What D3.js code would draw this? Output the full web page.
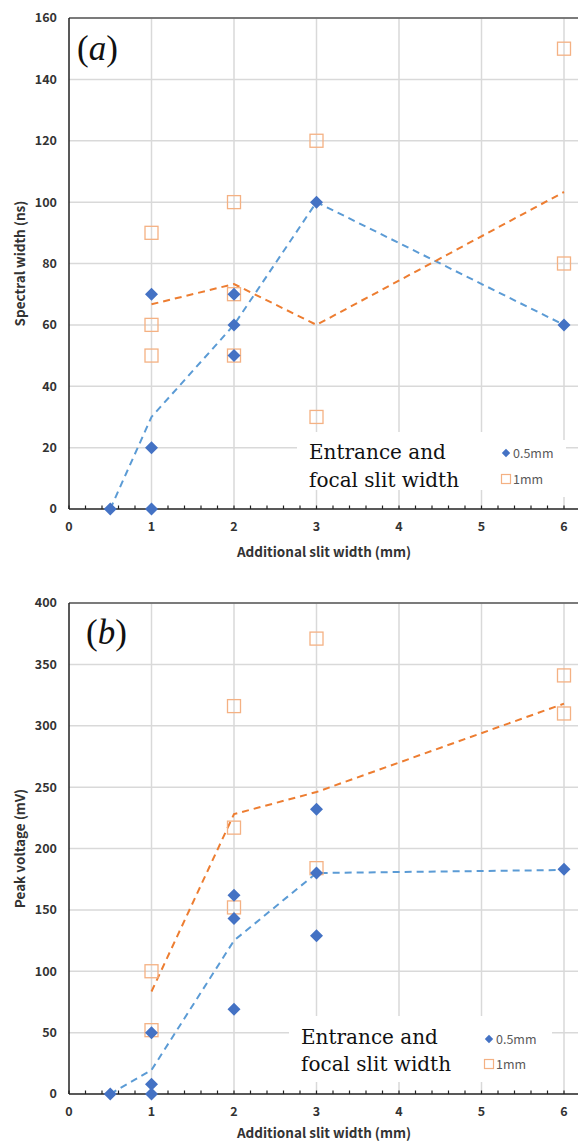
<!DOCTYPE html>
<html><head><meta charset="utf-8">
<script src="https://cdn.jsdelivr.net/npm/d3@7"></script>
<style>body{margin:0;background:#fff}svg{display:block}</style>
</head><body>
<script>
// ---------- data ----------
const xTicks = [0, 1, 2, 3, 4, 5, 6];
const xLabel = "Additional slit width (mm)";
const seriesNames = ["0.5mm", "1mm"];
const legendTitle = ["Entrance and", "focal slit width"];

// panel (a) Spectral width (ns)
const aYTicks = [0, 20, 40, 60, 80, 100, 120, 140, 160];
const aYLabel = "Spectral width (ns)";
const aDiamondX = [0.5, 1, 1, 1, 2, 2, 2, 3, 6];
const aDiamondY = [0, 70, 20, 0, 70, 60, 50, 100, 60];
const aSquareX = [1, 1, 1, 2, 2, 2, 3, 3, 6, 6];
const aSquareY = [90, 60, 50, 100, 70, 50, 120, 30, 150, 80];
const aLine05X = [0.5, 1, 2, 3, 6];
const aLine05Y = [0, 30, 60, 100, 60];
const aLine1X = [1, 2, 3, 6];
const aLine1Y = [66.7, 73.3, 60, 103.3];

// panel (b) Peak voltage (mV)
const bYTicks = [0, 50, 100, 150, 200, 250, 300, 350, 400];
const bYLabel = "Peak voltage (mV)";
const bDiamondX = [0.5, 1, 1, 1, 2, 2, 2, 3, 3, 3, 6];
const bDiamondY = [0, 50, 8, 0, 162, 143, 69, 232, 180, 129, 183];
const bSquareX = [1, 1, 2, 2, 2, 3, 3, 6, 6];
const bSquareY = [100, 52, 316, 217, 152, 371, 184, 341, 310];
const bLine05X = [0.5, 1, 2, 3, 6];
const bLine05Y = [0, 19.5, 125, 180, 182.5];
const bLine1X = [1, 2, 3, 6];
const bLine1Y = [83.5, 228, 246, 318];

// ---------- drawing ----------
const W = 578, H = 1144;
const svg = d3.select("body").append("svg").attr("width", W).attr("height", H);
const sans = "'Noto Sans CJK JP','Noto Sans',sans-serif";
const serif = "'DejaVu Serif',serif";
const C = {diamond: "#4472C4", line05: "#5B9BD5", square: "#F4B183", line1: "#ED7D31", grid: "#d9d9d9", text: "#333"};

function diamondPath(r) { return `M0,${-r}L${r},0L0,${r}L${-r},0Z`; }

function panel(o) {
  const g = svg.append("g");
  const x = d3.scaleLinear().domain([0, 6]).range([69, 564]);
  const y = d3.scaleLinear().domain([0, o.yMax]).range([o.y0, o.yTop]);
  const right = 578;

  // grid
  g.selectAll(".hg").data(o.yTicks.filter(v => v > 0)).join("line")
    .attr("x1", x(0)).attr("x2", right).attr("y1", d => y(d)).attr("y2", d => y(d))
    .attr("stroke", C.grid).attr("stroke-width", 1.5);
  g.selectAll(".vg").data(xTicks.filter(v => v > 0)).join("line")
    .attr("x1", d => x(d)).attr("x2", d => x(d)).attr("y1", o.yTop).attr("y2", o.y0)
    .attr("stroke", C.grid).attr("stroke-width", 1.5);

  // legend backgrounds
  o.boxes.forEach(b => g.append("rect").attr("x", b[0]).attr("y", b[1]).attr("width", b[2] - b[0]).attr("height", b[3] - b[1]).attr("fill", "#fff"));

  // axes
  g.append("line").attr("x1", x(0)).attr("x2", right).attr("y1", o.yTop).attr("y2", o.yTop).attr("stroke", "#595959").attr("stroke-width", 1.5);
  g.append("line").attr("x1", x(0)).attr("x2", x(0)).attr("y1", o.yTop).attr("y2", o.y0).attr("stroke", "#222").attr("stroke-width", 1.5);
  g.append("line").attr("x1", x(0)).attr("x2", right).attr("y1", o.y0).attr("y2", o.y0).attr("stroke", "#222").attr("stroke-width", 1.5);
  const minor = d3.range(0, 31).map(i => i * 0.2).filter(v => x(v) < right);
  g.selectAll(".mt").data(minor).join("line")
    .attr("x1", d => x(d)).attr("x2", d => x(d)).attr("y1", o.y0 - 3.5).attr("y2", o.y0)
    .attr("stroke", "#222").attr("stroke-width", 1.2);

  // tick labels
  g.selectAll(".yl").data(o.yTicks).join("text")
    .attr("x", 57).attr("y", d => y(d)).attr("dy", "0.35em").attr("text-anchor", "end")
    .attr("font-family", sans).attr("font-weight", 700).attr("font-size", 12.5).attr("fill", C.text).text(d => d);
  g.selectAll(".xl").data(xTicks).join("text")
    .attr("x", d => x(d)).attr("y", o.y0 + 22).attr("text-anchor", "middle")
    .attr("font-family", sans).attr("font-weight", 700).attr("font-size", 12.5).attr("fill", C.text).text(d => d);

  // axis titles
  g.append("text").attr("x", 324).attr("y", o.y0 + o.xTitleDy).attr("text-anchor", "middle")
    .attr("font-family", sans).attr("font-weight", 700).attr("font-size", 13.5).attr("fill", C.text).text(xLabel);
  g.append("text").attr("transform", `translate(25,${(o.y0 + o.yTop) / 2}) rotate(-90)`).attr("text-anchor", "middle")
    .attr("font-family", sans).attr("font-weight", 700).attr("font-size", 13.5).attr("fill", C.text).text(o.yLabel);

  // trend lines
  const line = d3.line().x(d => x(d[0])).y(d => y(d[1]));
  g.append("path").datum(d3.zip(o.l05x, o.l05y)).attr("d", line).attr("fill", "none")
    .attr("stroke", C.line05).attr("stroke-width", 2).attr("stroke-dasharray", "7,5");
  g.append("path").datum(d3.zip(o.l1x, o.l1y)).attr("d", line).attr("fill", "none")
    .attr("stroke", C.line1).attr("stroke-width", 2).attr("stroke-dasharray", "7,5");

  // markers
  g.selectAll(".sq").data(d3.zip(o.sx, o.sy)).join("rect")
    .attr("x", d => x(d[0]) - 6.5).attr("y", d => y(d[1]) - 6.5).attr("width", 13).attr("height", 13)
    .attr("fill", "none").attr("stroke", C.square).attr("stroke-width", 1.3);
  g.selectAll(".dm").data(d3.zip(o.dx, o.dy)).join("path")
    .attr("transform", d => `translate(${x(d[0])},${y(d[1])})`).attr("d", diamondPath(6.5)).attr("fill", C.diamond);

  // panel title
  const t = g.append("text").attr("x", o.title[1]).attr("y", o.title[2]).attr("font-family", "'Liberation Serif',serif").attr("font-size", 35).attr("fill", "#111");
  t.append("tspan").text("(");
  t.append("tspan").attr("font-style", "italic").text(o.title[0]);
  t.append("tspan").text(")");

  // legend
  const L = o.legend;
  g.append("text").attr("x", L.tx).attr("y", L.ty1).attr("font-family", serif).attr("font-size", 20).attr("fill", "#111").text(legendTitle[0]);
  g.append("text").attr("x", L.tx).attr("y", L.ty2).attr("font-family", serif).attr("font-size", 20).attr("fill", "#111").text(legendTitle[1]);
  g.append("path").attr("transform", `translate(${L.mx},${L.my1})`).attr("d", diamondPath(4.2)).attr("fill", C.diamond);
  g.append("rect").attr("x", L.mx - 4.5).attr("y", L.my2 - 4.5).attr("width", 9).attr("height", 9).attr("fill", "none").attr("stroke", C.square).attr("stroke-width", 1.2);
  g.append("text").attr("x", L.mx + 7).attr("y", L.my1).attr("dy", "0.36em").attr("font-family", sans).attr("font-size", 12.5).attr("fill", "#595959").text(seriesNames[0]);
  g.append("text").attr("x", L.mx + 7).attr("y", L.my2).attr("dy", "0.36em").attr("font-family", sans).attr("font-size", 12.5).attr("fill", "#595959").text(seriesNames[1]);
}

panel({
  yMax: 160, y0: 509, yTop: 18, yTicks: aYTicks, yLabel: aYLabel,
  dx: aDiamondX, dy: aDiamondY, sx: aSquareX, sy: aSquareY,
  l05x: aLine05X, l05y: aLine05Y, l1x: aLine1X, l1y: aLine1Y,
  title: ["a", 77, 60], xTitleDy: 48,
  boxes: [[297, 432, 490, 490], [485, 440, 566, 497]],
  legend: {tx: 309, ty1: 459, ty2: 487, mx: 506, my1: 453, my2: 479}
});
panel({
  yMax: 400, y0: 1094, yTop: 603, yTicks: bYTicks, yLabel: bYLabel,
  dx: bDiamondX, dy: bDiamondY, sx: bSquareX, sy: bSquareY,
  l05x: bLine05X, l05y: bLine05Y, l1x: bLine1X, l1y: bLine1Y,
  title: ["b", 86, 644], xTitleDy: 44,
  boxes: [[289, 1016, 552, 1082]],
  legend: {tx: 301, ty1: 1044, ty2: 1071, mx: 489, my1: 1039, my2: 1064}
});
</script>
</body></html>
